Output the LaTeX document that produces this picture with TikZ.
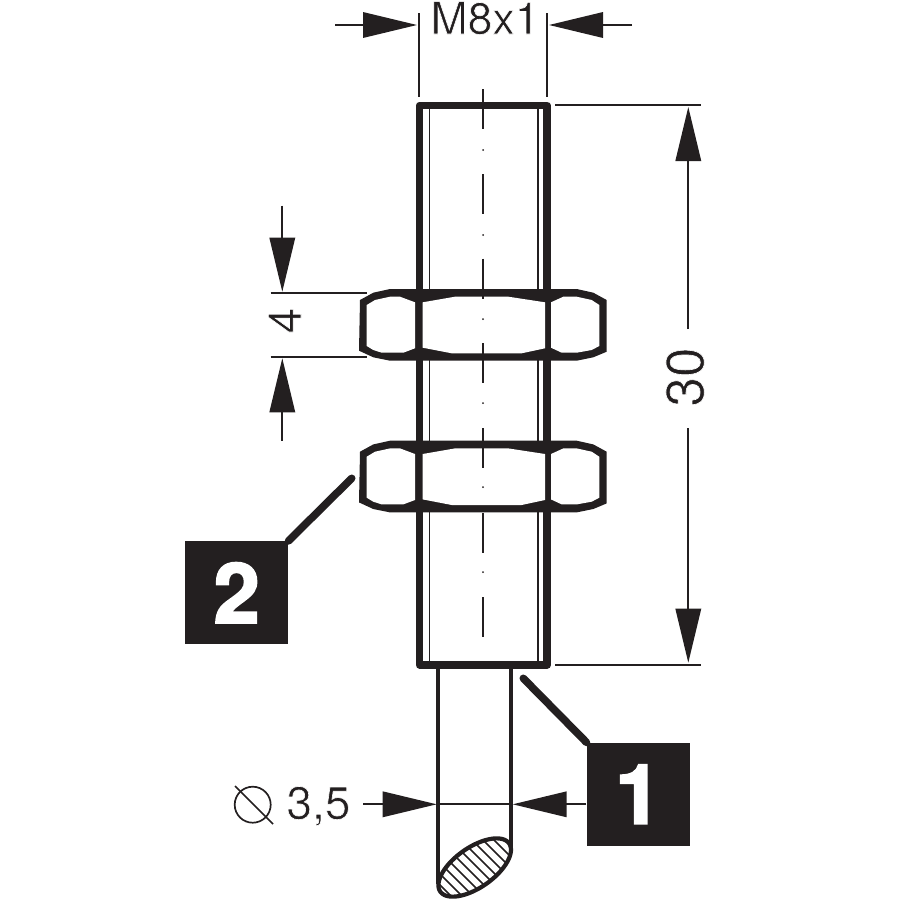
\documentclass[tikz,border=0pt]{standalone}
\usepackage{fontspec}
\setmainfont{TeX Gyre Heros}
\usetikzlibrary{arrows.meta}
\definecolor{ink}{HTML}{231F20}
\newcommand{\thintext}[2]{\special{pdf:code 2 Tr 1 1 1 RG #1 w}#2\special{pdf:code 0 Tr 0.137 0.122 0.125 RG 1 w}}
\newcommand{\cablecut}{plot[domain=0:360,samples=121,smooth cycle] ({474.7+42*cos(\x)*cos(35)-20*sin(\x)*sin(35)},{867.5-42*cos(\x)*sin(35)-20*sin(\x)*cos(35)})}
\tikzset{
  thinline/.style={ink,line width=1.7pt},
  threadline/.style={ink,line width=1.7pt},
  hatchline/.style={ink,line width=1.5pt},
  bodyline/.style={ink,line width=7.6pt,line join=round},
  cableline/.style={ink,line width=4.2pt},
  leader/.style={ink,line width=7.6pt,line cap=round},
  dimarrow/.style={thinline,-{Triangle[length=54pt,width=25.5pt]},ink},
  dimtext/.style={inner sep=0pt,text=ink,font=\fontsize{46}{50}\selectfont},
  tagbox/.style={fill=ink,minimum width=103.3pt,minimum height=103.3pt,inner sep=0pt,text=white,font=\fontsize{83}{90}\selectfont\bfseries},
  cellfill/.style={fill=white,draw=none},
}
\begin{document}
\begin{tikzpicture}[x=1pt,y=-1pt]
\useasboundingbox (0,0) rectangle (900,900);
% cable
\coordinate (cl1) at (438.3,665); \coordinate (cl2) at (438.3,884);
\coordinate (cr1) at (510.7,665); \coordinate (cr2) at (510.7,850);
\draw[cableline] (cl1) -- (cl2);
\draw[cableline] (cr1) -- (cr2);
\begin{scope}
  \path[clip] \cablecut;
  \foreach \c in {-445,-434,-423,-412,-401,-390,-379,-368,-357,-346}
    \draw[hatchline] ({\c+825},825) -- ({\c+905},905);
\end{scope}
\draw[cableline] \cablecut;
% body
\draw[threadline] (429.5,105) -- (429.5,665);
\draw[threadline] (537.7,105) -- (537.7,665);
\draw[bodyline] (419.6,105.5) rectangle (547.2,664.8);
% nuts
\foreach \ny in {0,151.7}{
\begin{scope}[shift={(0,\ny)}]
  \fill[ink] (360,300) -- (373.3,292.7) -- (390,289) -- (576.7,289) -- (593.3,292.7) -- (606.7,300) -- (606.7,351.7) -- (593.3,357.3) -- (576.7,360.7) -- (390,360.7) -- (373.3,357.3) -- (359,350.7) -- cycle;
  \path[cellfill] (366.7,305) -- (375,300) -- (390,296.7) -- (400,296.7) -- (415,302.3) -- (415,348.3) -- (403.3,352.7) -- (381.7,352.7) -- (373.3,350) -- (366.7,346) -- cycle;
  \path[cellfill] (422.7,302.3) -- (455,296.7) -- (508.3,296.7) -- (545,302.3) -- (545,348.3) -- (521.7,353.3) -- (451.7,353.3) -- (422.7,347.7) -- cycle;
  \path[cellfill] (551,302.3) -- (563.3,296.7) -- (576.7,296.7) -- (591.7,300) -- (599.3,305) -- (599.3,346) -- (591.7,350) -- (576.7,352.7) -- (561.7,352.7) -- (551,347.7) -- cycle;
\end{scope}}
% centre line
\foreach \d in {89,174,258.5,343,428,513,597}
  \draw[thinline] (483,\d) -- (483,\d+40);
\foreach \d in {150,235,319,403,487,572}
  \fill[ink] (483,\d) circle (1pt);
% M8x1
\coordinate (tl) at (418.7,13); \coordinate (tlb) at (418.7,97);
\coordinate (tr) at (547.3,13); \coordinate (trb) at (547.3,97);
\draw[thinline] (tl) -- (tlb);
\draw[thinline] (tr) -- (trb);
\coordinate (ta1) at (335,25); \coordinate (ta1t) at (417,25);
\coordinate (ta2) at (632,25); \coordinate (ta2t) at (549,25);
\draw[dimarrow] (ta1) -- (ta1t);
\draw[dimarrow] (ta2) -- (ta2t);
\node[dimtext,anchor=base,font=\fontsize{44.5}{50}\selectfont] (lm) at (485,34) {\thintext{0.6}{M8x1}};
% 30
\coordinate (r1a) at (555,105.3); \coordinate (r1b) at (700.7,105.3);
\coordinate (r2a) at (555,664.7); \coordinate (r2b) at (700.7,664.7);
\draw[thinline] (r1a) -- (r1b);
\draw[thinline] (r2a) -- (r2b);
\coordinate (ra1) at (688.3,329); \coordinate (ra1t) at (688.3,107);
\coordinate (ra2) at (688.3,428); \coordinate (ra2t) at (688.3,662.7);
\draw[dimarrow] (ra1) -- (ra1t);
\draw[dimarrow] (ra2) -- (ra2t);
\node[dimtext,rotate=90,anchor=base,font=\fontsize{53}{56}\selectfont] (l30) at (703.5,377) {\thintext{0.6}{30}};
% 4
\coordinate (f1a) at (270.7,293); \coordinate (f1b) at (366.7,293);
\coordinate (f2a) at (270.7,356.7); \coordinate (f2b) at (366.7,356.7);
\draw[thinline] (f1a) -- (f1b);
\draw[thinline] (f2a) -- (f2b);
\coordinate (fa1) at (282.3,205.7); \coordinate (fa1t) at (282.3,291.7);
\coordinate (fa2) at (282.3,440.7); \coordinate (fa2t) at (282.3,358.3);
\draw[dimarrow] (fa1) -- (fa1t);
\draw[dimarrow] (fa2) -- (fa2t);
\node[dimtext,rotate=90,anchor=base] (l4) at (301,320.5) {\thintext{0.6}{4}};
% tags
\node[tagbox] (tag2) at (236.7,592.7) {\thintext{2}{2}};
\node[tagbox] (tag1) at (638.3,794.2) {\thintext{2}{1}};
\coordinate (lead2) at (351.7,478.3);
\coordinate (lead1) at (523.3,678.3);
\draw[leader] (lead2) -- (tag2.north east);
\draw[leader] (lead1) -- (tag1.north west);
% diameter
\coordinate (da1) at (363,804.3); \coordinate (da1t) at (436.7,804.3);
\coordinate (da2t) at (512.7,804.3);
\draw[dimarrow] (da1) -- (da1t);
\draw[dimarrow] (tag1.west |- da2t) -- (da2t);
\draw[thinline] (da1t) -- (da2t);
\draw[thinline] (252.7,804.7) circle (18pt);
\coordinate (s1) at (235,786); \coordinate (s2) at (273,824);
\draw[thinline] (s1) -- (s2);
\node[dimtext,anchor=base] (l35) at (318.5,819) {\thintext{0.6}{3,5}};
\end{tikzpicture}
\end{document}
